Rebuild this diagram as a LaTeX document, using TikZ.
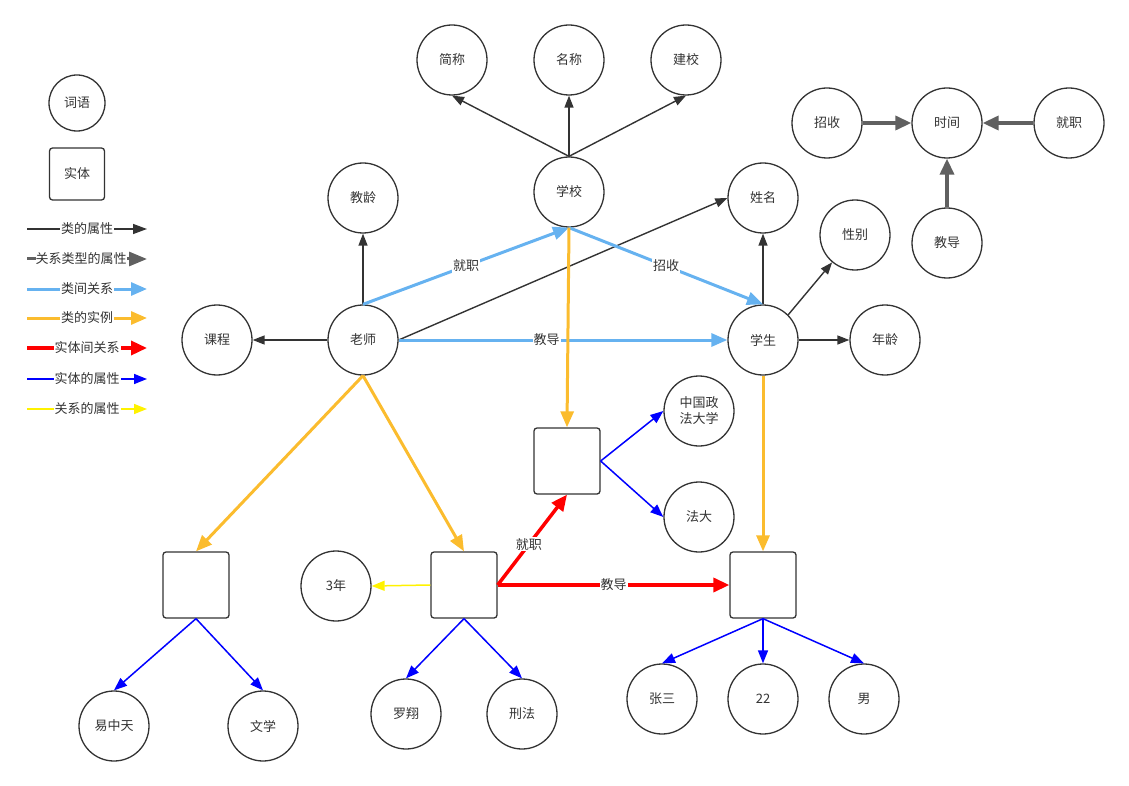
\documentclass[tikz,border=0pt]{standalone}
\usepackage{fontspec}
\setmainfont{Noto Sans CJK SC}
\usetikzlibrary{arrows.meta}

\definecolor{dark}{HTML}{333333}
\definecolor{grayrel}{HTML}{606060}
\definecolor{lightblue}{HTML}{66B2F0}
\definecolor{orangeinst}{HTML}{FBBC2E}

\tikzstyle{word} = [circle, draw=dark, line width=1.3pt, minimum size=70pt, inner sep=0pt, align=center, text=dark]
\tikzstyle{entity} = [rectangle, rounded corners=3pt, draw=dark, line width=1.3pt, minimum size=66pt, text=dark]
\tikzstyle{lbl} = [fill=white, inner sep=1pt, text=dark]
\tikzstyle{attr} = [draw=dark, line width=1.4pt, -{Triangle[length=12pt,width=9pt]}]
\tikzstyle{relattr} = [draw=grayrel, line width=3.5pt, -{Triangle[length=16pt,width=14pt]}]
\tikzstyle{classrel} = [draw=lightblue, line width=3pt, -{Triangle[length=16pt,width=13pt]}]
\tikzstyle{inst} = [draw=orangeinst, line width=3pt, -{Triangle[length=16pt,width=13pt]}]
\tikzstyle{entrel} = [draw=red, line width=3.5pt, -{Triangle[length=16pt,width=14pt]}]
\tikzstyle{entattr} = [draw=blue, line width=1.5pt, -{Triangle[length=13pt,width=10pt]}]
\tikzstyle{linkattr} = [draw=yellow, line width=1.5pt, -{Triangle[length=13pt,width=10pt]}]

\begin{document}
\begin{tikzpicture}[x=1pt, y=-1pt, font=\fontsize{13}{16}\selectfont]
\useasboundingbox (0,0) rectangle (1129,786);

% legend
\node [word, minimum size=56pt] (lgword) at (77,103) {词语};
\node [entity, minimum width=55pt, minimum height=52pt] (lgentity) at (77,174) {实体};
\coordinate (ls1) at (27,229); \coordinate (le1) at (147,229);
\coordinate (ls2) at (27,259); \coordinate (le2) at (147,259);
\coordinate (ls3) at (27,289); \coordinate (le3) at (147,289);
\coordinate (ls4) at (27,318); \coordinate (le4) at (147,318);
\coordinate (ls5) at (27,348); \coordinate (le5) at (147,348);
\coordinate (ls6) at (27,379); \coordinate (le6) at (147,379);
\coordinate (ls7) at (27,409); \coordinate (le7) at (147,409);
\draw [attr, -{Triangle[length=14pt,width=10pt]}] (ls1) -- node [lbl] {类的属性} (le1);
\draw [relattr, line width=3pt, -{Triangle[length=18pt,width=14pt]}] (ls2) -- node [lbl, inner sep=0pt, xshift=-6pt] {关系类型的属性} (le2);
\draw [classrel] (ls3) -- node [lbl] {类间关系} (le3);
\draw [inst] (ls4) -- node [lbl] {类的实例} (le4);
\draw [entrel] (ls5) -- node [lbl] {实体间关系} (le5);
\draw [entattr] (ls6) -- node [lbl] {实体的属性} (le6);
\draw [linkattr] (ls7) -- node [lbl] {关系的属性} (le7);

% classes
\node [word] (jiancheng) at (452,60) {简称};
\node [word] (mingcheng) at (569,60) {名称};
\node [word] (jianxiao) at (686,60) {建校};
\node [word] (xuexiao) at (569,192) {学校};
\node [word] (jiaoling) at (363,198) {教龄};
\node [word] (xingming) at (763,198) {姓名};
\node [word] (xingbie) at (855,235) {性别};
\node [word] (kecheng) at (217,340) {课程};
\node [word] (laoshi) at (363,340) {老师};
\node [word] (xuesheng) at (763,340) {学生};
\node [word] (nianling) at (885,340) {年龄};

% relation types
\node [word] (zhaoshou) at (827,123) {招收};
\node [word] (shijian) at (947,123) {时间};
\node [word] (jiuzhi) at (1069,123) {就职};
\node [word] (jiaodao) at (947,243) {教导};

% instances
\node [entity] (schoolbox) at (567,461) {};
\node [entity] (teacherbox1) at (196,585) {};
\node [entity] (teacherbox2) at (464,585) {};
\node [entity] (studentbox) at (763,585) {};
\node [word] (zhengfa) at (699,411) {中国政\\法大学};
\node [word] (fada) at (699,517) {法大};
\node [word] (sannian) at (336,586) {3年};
\node [word] (yizhongtian) at (114,726) {易中天};
\node [word] (wenxue) at (263,726) {文学};
\node [word] (luoxiang) at (406,714) {罗翔};
\node [word] (xingfa) at (522,714) {刑法};
\node [word] (zhangsan) at (662,699) {张三};
\node [word] (age22) at (763,699) {22};
\node [word] (nan) at (864,699) {男};

% class attributes
\draw [attr] (xuexiao.north) -- (jiancheng.south);
\draw [attr] (xuexiao.north) -- (mingcheng.south);
\draw [attr] (xuexiao.north) -- (jianxiao.south);
\draw [attr] (laoshi.north) -- (jiaoling.south);
\draw [attr] (laoshi.west) -- (kecheng.east);
\draw [attr] (laoshi.east) -- (xingming.west);
\draw [attr] (xuesheng.north) -- (xingming.south);
\draw [attr] (xuesheng.north east) -- (xingbie);
\draw [attr] (xuesheng.east) -- (nianling.west);

% relation type attributes
\draw [relattr] (zhaoshou.east) -- (shijian.west);
\draw [relattr] (jiuzhi.west) -- (shijian.east);
\draw [relattr] (jiaodao.north) -- (shijian.south);

% class relations
\draw [classrel] (laoshi.north) -- node [lbl] {就职} (xuexiao.south);
\draw [classrel] (xuexiao.south) -- node [lbl] {招收} (xuesheng.north);
\draw [classrel] (laoshi.east) -- node [lbl, pos=0.45] {教导} (xuesheng.west);

% instances of classes
\draw [inst] (xuexiao.south) -- (schoolbox.north);
\draw [inst] (laoshi.south) -- (teacherbox1.north);
\draw [inst] (laoshi.south) -- (teacherbox2.north);
\draw [inst] (xuesheng.south) -- (studentbox.north);

% entity relations
\draw [entrel] (teacherbox2.east) -- node [lbl, pos=0.45] {就职} (schoolbox.south);
\draw [entrel] (teacherbox2.east) -- node [lbl, pos=0.5] {教导} (studentbox.west);
\draw [linkattr] (teacherbox2.west) -- (sannian.east);

% entity attributes
\draw [entattr] (schoolbox.east) -- (zhengfa.west);
\draw [entattr] (schoolbox.east) -- (fada.west);
\draw [entattr] (teacherbox1.south) -- (yizhongtian.north);
\draw [entattr] (teacherbox1.south) -- (wenxue.north);
\draw [entattr] (teacherbox2.south) -- (luoxiang.north);
\draw [entattr] (teacherbox2.south) -- (xingfa.north);
\draw [entattr] (studentbox.south) -- (zhangsan.north);
\draw [entattr] (studentbox.south) -- (age22.north);
\draw [entattr] (studentbox.south) -- (nan.north);
\end{tikzpicture}
\end{document}
